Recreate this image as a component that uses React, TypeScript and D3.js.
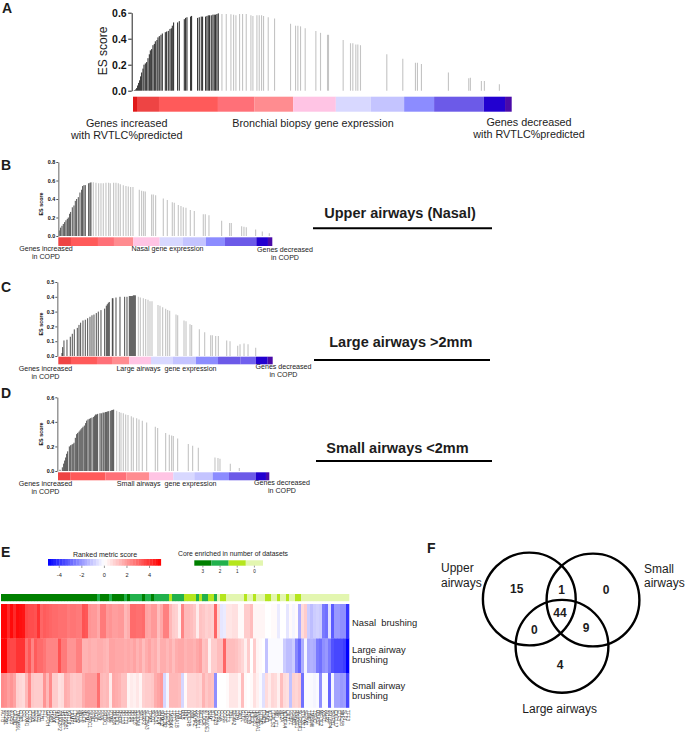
import * as React from 'react';
import { axisLeft, range, scaleBand, scaleLinear, scaleOrdinal, select } from 'd3';

// colour bar steps of the ranked gene list, red end to blue end
const barColorsA = ['#e01818', '#ee4444', '#ff5a5a', '#ff7078', '#ff8c90', '#ffc4e4', '#d8d8ff', '#c4c4ff', '#8c8cff', '#6c5ae8', '#2200d0', '#4a0aa8'];
const barColorsB = ['#ee4444', '#ff5a5a', '#ff7078', '#ff8c90', '#ffc4e4', '#d8d8ff', '#c4c4ff', '#8c8cff', '#6c5ae8', '#2200d0', '#4a0aa8'];
const barColorsC = ['#ee4444', '#ff5a5a', '#ff7078', '#ff8c90', '#ffc4e4', '#d8d8ff', '#c4c4ff', '#8c8cff', '#6c5ae8', '#7060ee', '#2200d0', '#4a0aa8'];

const segmentsA = [0, 12, 78, 255, 365, 481, 609, 714, 814, 904, 1053, 1117, 1137];
const ranksA = [4, 8, 11, 14, 17, 20, 23, 26, 30, 33, 37, 41, 45, 49, 52, 56, 60, 64, 67, 72, 75, 79, 84, 88, 97, 101, 106, 111, 115, 118, 122, 134, 139, 154, 158, 162, 173, 176, 194, 199, 205, 209, 218, 222, 226, 230, 235, 240, 244, 248, 252, 256,
  267, 280, 294, 302, 309, 320, 329, 340, 354, 360, 372, 379, 386, 392, 406, 425, 473, 488, 495, 503, 517, 549, 563, 584, 587, 631, 653, 660, 669, 675, 683, 762, 810, 848, 854, 866, 947, 1008, 1013, 1046, 1055, 1100];
const esA = [0.005, 0.01, 0.02, 0.04, 0.06, 0.08, 0.11, 0.14, 0.17, 0.2, 0.21, 0.22, 0.25, 0.28, 0.31, 0.32, 0.35, 0.36, 0.38, 0.39, 0.41, 0.42, 0.43, 0.44, 0.45, 0.455, 0.46, 0.475, 0.48, 0.5, 0.525, 0.525, 0.535, 0.55, 0.56, 0.565, 0.57, 0.575, 0.56, 0.565, 0.57, 0.57, 0.57, 0.575, 0.58, 0.58, 0.58, 0.585, 0.585, 0.585, 0.59, 0.595,
  0.59, 0.59, 0.588, 0.585, 0.58, 0.59, 0.59, 0.59, 0.58, 0.575, 0.58, 0.58, 0.58, 0.575, 0.565, 0.555, 0.515, 0.5, 0.5, 0.495, 0.48, 0.46, 0.445, 0.43, 0.43, 0.39, 0.365, 0.365, 0.355, 0.355, 0.35, 0.28, 0.245, 0.215, 0.215, 0.205, 0.14, 0.095, 0.1, 0.075, 0.075, 0.05];

const segmentsB = [0, 38, 119, 167, 225, 304, 374, 443, 500, 594, 629, 642];
const ranksB = [3, 7, 11, 15, 19, 23, 27, 30, 34, 37, 42, 47, 51, 55, 60, 65, 70, 73, 77, 81, 91, 95, 98,
  105, 113, 121, 128, 135, 143, 151, 156, 166, 173, 180, 186, 195, 203, 210, 217, 224, 243, 250, 256, 261, 280, 285, 292, 315, 327, 342, 348, 360, 368, 375, 383, 396, 408, 435, 441, 452, 490, 514, 519, 550, 557, 564, 592, 612, 633];
const esB = [0.06, 0.09, 0.11, 0.13, 0.15, 0.17, 0.185, 0.2, 0.24, 0.26, 0.31, 0.33, 0.38, 0.4, 0.42, 0.47, 0.5, 0.54, 0.55, 0.55, 0.57, 0.575, 0.58,
  0.58, 0.575, 0.57, 0.57, 0.57, 0.575, 0.575, 0.57, 0.575, 0.575, 0.57, 0.56, 0.55, 0.54, 0.535, 0.53, 0.53, 0.5, 0.49, 0.485, 0.48, 0.45, 0.45, 0.44, 0.405, 0.39, 0.365, 0.36, 0.335, 0.325, 0.31, 0.305, 0.28, 0.27, 0.235, 0.235, 0.225, 0.165, 0.14, 0.14, 0.105, 0.1, 0.095, 0.07, 0.05, 0.03];

const segmentsC = [0, 38, 116, 161, 213, 278, 344, 413, 479, 547, 592, 628, 643];
const ranksC = [11, 13, 17, 26, 36, 42, 48, 57, 62, 67, 74, 81, 88, 95, 101, 107, 114, 120, 128, 139, 144, 147, 150, 153, 162, 164, 173, 185, 199, 206, 213, 216, 219, 222, 225, 228, 231,
  240, 246, 255, 262, 269, 275, 281, 299, 305, 313, 322, 328, 334, 353, 358, 377, 383, 395, 400, 423, 439, 457, 462, 472, 480, 505, 515, 538, 545, 557, 569, 592];
const esC = [0.02, 0.06, 0.105, 0.11, 0.13, 0.15, 0.18, 0.19, 0.21, 0.225, 0.24, 0.245, 0.255, 0.265, 0.275, 0.28, 0.29, 0.3, 0.31, 0.32, 0.34, 0.35, 0.36, 0.365, 0.39, 0.39, 0.395, 0.4, 0.4, 0.4, 0.405, 0.405, 0.405, 0.405, 0.41, 0.41, 0.41,
  0.4, 0.395, 0.39, 0.385, 0.38, 0.37, 0.37, 0.345, 0.34, 0.33, 0.32, 0.31, 0.305, 0.28, 0.275, 0.24, 0.235, 0.215, 0.21, 0.18, 0.16, 0.14, 0.14, 0.135, 0.135, 0.105, 0.1, 0.07, 0.08, 0.085, 0.08, 0.055];

const segmentsD = [0, 38, 142, 205, 273, 346, 409, 464, 513, 594, 624, 634];
const ranksD = [6, 13, 17, 20, 23, 26, 29, 34, 38, 42, 45, 48, 52, 56, 59, 63, 66, 69, 72, 75, 79, 83, 86, 90, 94, 98, 102, 107, 110, 113, 116, 119, 126, 130, 135, 138, 142, 145, 148, 152, 157, 161, 164, 167,
  176, 184, 189, 196, 203, 210, 220, 226, 236, 243, 253, 266, 292, 299, 323, 334, 341, 346, 359, 391, 404, 421, 471, 480, 486, 517, 544];
const esD = [0.01, 0.03, 0.06, 0.085, 0.11, 0.14, 0.16, 0.2, 0.21, 0.215, 0.22, 0.23, 0.27, 0.3, 0.31, 0.32, 0.33, 0.34, 0.35, 0.36, 0.37, 0.39, 0.41, 0.42, 0.425, 0.43, 0.435, 0.44, 0.45, 0.46, 0.46, 0.465, 0.47, 0.47, 0.475, 0.475, 0.48, 0.48, 0.485, 0.487, 0.49, 0.495, 0.497, 0.5,
  0.49, 0.48, 0.475, 0.47, 0.46, 0.455, 0.445, 0.435, 0.43, 0.42, 0.41, 0.395, 0.36, 0.35, 0.31, 0.295, 0.29, 0.285, 0.265, 0.22, 0.205, 0.19, 0.11, 0.105, 0.1, 0.06, 0.025];

// heatmap: ranked metric score per gene, in three datasets
const nasalScores = [4.9, 4.9, 4.2, 4.8, 4.2, 4.8, 4.7, 4.6, 3.6, 3.5, 3.5, 3.4, 4.0, 3.0, 3.2, 3.1, 3.0, 2.9, 2.9, 2.8, 2.8, 2.8, 2.6, 2.7, 2.7, 2.6, 2.6, 3.4, 3.3, 2.1, 2.0, 2.0, 1.7, 2.6, 2.6, 2.0, 2.1, 1.9, 1.9, 2.0,
  2.0, 1.4, 1.6, 2.9, 2.9, 2.8, 2.8, 2.9, 1.8, 1.7, 2.0, 2.0, 1.3, 1.7, 2.5, 2.5, 1.4, 1.0, 0.9, 0.3, 2.4, 1.4, 1.4, 1.3, 1.1, 0.4, 1.2, 1.1, 0.9, 1.0, 0.9, 3.0, 0.8, -0.5, -0.4, 0.5, 0.5, 0.6, 0.6,
  0.1, 0.1, 1.0, 1.0, 1.3, 0.2, 0.2, 0.2, 0.2, 0.0, 0.0, 0.1, 0.1, -0.4, 0.0, 0.0, -0.5, 0.1, -0.2, 0.1, -1.6, 0.7, 1.0, -1.0, -1.3, -1.0, -0.9, -1.0, -2.6, -2.8, -0.6, -3.2, -2.0, -2.0, -2.2, -2.2, -4.0];
const largeScores = [4.9, 4.9, 3.7, 3.6, 3.6, 4.0, 4.0, 4.0, 2.8, 3.3, 2.4, 3.2, 2.9, 2.9, 2.7, 2.4, 2.4, 2.4, 2.4, 3.4, 2.6, 2.6, 2.1, 2.1, 2.1, 2.5, 2.5, 1.5, 1.5, 1.6, 1.5, 1.5, 1.6, 1.6, 1.5, 1.4, 1.8, 1.8, 1.7, 1.7,
  1.7, 1.6, 1.7, 1.6, 1.8, 1.5, 1.7, 1.3, 1.6, 1.8, 1.5, 1.6, 1.2, 1.6, 1.6, 1.4, 1.6, 1.3, 1.6, 1.7, 1.7, 1.5, 1.6, 1.6, 1.5, 1.7, 1.9, 1.2, 1.3, 0.3, 1.0, 1.0, 1.3, 1.3, 3.0, 1.3, 1.3, 1.3, 1.2,
  1.0, 0.8, 0.3, 1.0, 0.0, 1.0, 0.2, 0.1, 0.0, -1.2, -0.1, -0.1, -0.1, -0.1, -0.1, -1.0, -1.3, -1.3, -1.0, -2.4, -3.0, -1.6, -0.2, -1.6, -1.5, -1.6, -2.6, -2.8, -2.2, -2.0, -2.6, -3.4, -3.6, -3.6, -3.6, -3.8, -5.0];
const smallScores = [2.3, 2.2, 1.9, 2.1, 1.8, 0.9, 0.8, 0.7, 1.4, 2.3, 1.1, 1.0, 1.0, 1.0, 2.1, 1.4, 2.3, 1.0, 1.0, 0.6, 0.7, 1.6, 1.5, 1.1, 1.0, 1.1, 1.1, 1.6, 1.9, 1.9, 1.9, 1.9, 2.8, 1.4, 1.3, 1.4, 0.4, 1.7, 1.6, 1.5,
  1.2, 1.2, 0.2, 0.4, 0.3, 0.5, 0.2, 0.9, 1.0, 1.0, 1.1, 1.6, 1.8, 2.0, -0.8, -0.2, 1.4, 1.4, 1.4, 1.3, -0.8, 0.1, 0.8, 0.8, 0.8, 0.9, 0.8, 1.5, 1.1, 1.3, 1.2, -2.2, 0.0, 0.0, 0.0, 0.1, 0.5, 0.5, 0.5,
  0.2, 1.3, 0.1, 0.0, 0.1, 0.6, 0.3, -0.1, -0.6, 0.7, 0.4, 0.8, 0.7, 0.3, 1.3, 0.7, 0.6, -1.2, 0.9, 0.8, 1.0, -2.8, -0.1, -0.1, -0.1, -0.2, -0.1, -2.2, -0.1, -0.1, -3.0, -0.2, -1.8, -1.8, -2.0, -1.9, -3.6];
const coreCounts = [3, 3, 3, 3, 3, 3, 3, 3, 3, 3, 3, 3, 3, 3, 3, 3, 3, 3, 3, 3, 3, 3, 3, 3, 3, 3, 3, 3, 3, 3, 3, 3, 2, 3, 3, 3, 2, 3, 3, 3,
  3, 2, 3, 2, 2, 2, 2, 3, 2, 2, 3, 2, 2, 2, 2, 2, 1, 2, 2, 2, 2, 1, 1, 1, 1, 2, 1, 2, 2, 1, 1, 2, 0, 1, 1, 0, 0, 0, 0,
  0, 0, 1, 0, 0, 1, 0, 0, 0, 1, 1, 0, 0, 1, 0, 0, 1, 0, 0, 1, 1, 0, 0, 0, 0, 0, 0, 0, 0, 0, 0, 0, 0, 0, 0, 0, 0];

// the gene labels are too small to read in the source, these are stand-ins of similar length
const geneLabels = ['ACTB', 'AP2M1', 'ARF1', 'ATP5B', 'CALM1', 'TMEM59L', 'CD63', 'CFL1', 'COX4I1', 'CTSD', 'DDX5', 'EEF2', 'ENO1', 'FTH1', 'FTL', 'GAPDH', 'GNB2', 'GPX4', 'HINT1', 'ANXA2P2', 'HSPA8', 'HSP90B1', 'KRT19', 'LAMP1', 'LDHB', 'MDH2', 'MYL6', 'NACA', 'NPM1', 'PABPC1',
  'PFN1', 'PGK1', 'PKM', 'PPIA', 'PRDX1', 'PSAP', 'PTMA', 'RAB7A', 'RACK1', 'RHOA', 'RPL10', 'RPL13', 'RPS3', 'RPS6', 'RPS18', 'S100A6', 'SAT1', 'SERF2', 'SLC25A3', 'TPM3', 'SOD1', 'SPCS1', 'SRP14', 'SUMO2', 'TAGLN2', 'TCEB2', 'TMSB4X', 'TPT1', 'TUBA1B', 'TXN',
  'UBB', 'UBC', 'UQCRB', 'VIM', 'YWHAZ', 'ZFP36L1', 'ACTG1', 'ALDOA', 'ATP6V0E1', 'B2M', 'BTF3', 'CAPZB', 'CD59', 'CLTA', 'COPE', 'CST3', 'DBI', 'EIF4A2', 'ERH', 'FAU',
  'GLUL', 'GNAS', 'H3F3B', 'HLA-A', 'HMGB1', 'HNRNPA1', 'IFITM3', 'ITM2B', 'JUND', 'KLF6', 'LGALS3', 'MALAT1', 'MIF', 'MT2A', 'NDUFA4', 'OAZ1', 'PEBP1', 'PSMB1', 'RNASE1', 'SCGB1A1', 'STK38L1', 'SEPW1', 'TIMP1', 'TMBIM6', 'TSPO', 'UBA52', 'WFDC2', 'XBP1', 'AGR2', 'ARL6IP4', 'BPIFB1', 'CXCL17', 'ELF3', 'MUC5B', 'SLPI', 'TFF3'];

const coreLevels = [3, 2, 1, 0];
const coreColors = ['#008000', '#22b14c', '#b5e61d', '#e3f6b0'];
const metricTicks = [-4, -2, 0, 2, 4];
const vennCounts = ['15', '1', '0', '44', '0', '9', '4'];

const font = '"Liberation Sans", Arial, sans-serif';

const metricColor = scaleLinear<string>().domain([-5, 0, 5]).range(['#0000ff', '#ffffff', '#ff0000']).clamp(true);
const coreColor = scaleOrdinal<number, string>().domain(coreLevels).range(coreColors);

interface EnrichmentProps {
  ranks: number[];
  es: number[];
  segments: number[];
  colors: string[];
  peak: number; // rank of the running score maximum, leading edge ends here
  yMax: number;
  yTicks: number[];
  x0: number;
  x1: number;
  yTop: number;
  yBase: number;
  axisX: number;
  barTop: number;
  barBottom: number;
  big?: boolean;
}

const EnrichmentPlot = ({ ranks, es, segments, colors, peak, yMax, yTicks, x0, x1, yTop, yBase, axisX, barTop, barBottom, big }: EnrichmentProps) => {
  const axisRef = React.useRef<SVGGElement>(null);
  const x = scaleLinear().domain([0, segments[segments.length - 1]]).range([x0, x1]);
  const y = scaleLinear().domain([0, yMax]).range([yBase, yTop]);

  React.useEffect(() => {
    const axis = axisLeft(y).tickValues(yTicks).tickFormat((d) => (+d).toFixed(1)).tickSize(big ? 3.5 : 2).tickSizeOuter(0).tickPadding(big ? 1.5 : 1);
    const g = select(axisRef.current!);
    g.call(axis as any);
    g.selectAll('text').attr('font-family', font).attr('font-weight', 'bold').attr('font-size', big ? 10.5 : 5.4).attr('fill', '#111');
    g.selectAll('line').attr('stroke', big ? '#222' : '#555');
    g.select('path').attr('stroke', big ? '#222' : '#888').attr('stroke-width', big ? 1 : 1.3);
  });

  return (
    <g>
      {ranks.map((r, i) => (
        <line key={i} x1={x(r)} x2={x(r)} y1={y(0)} y2={y(es[i])}
          stroke={r <= peak ? '#222' : '#c4c4c4'} strokeWidth={r <= peak ? (big ? 1 : 0.8) : 1.1} />
      ))}
      {colors.map((c, i) => (
        <rect key={i} x={x(segments[i])} y={barTop} width={x(segments[i + 1]) - x(segments[i])} height={barBottom - barTop} fill={c} />
      ))}
      <g ref={axisRef} transform={`translate(${axisX},0)`} />
    </g>
  );
};

const Label = ({ x, y, size = 7.1, anchor = 'middle', weight, children }: any) => (
  <text x={x} y={y} fontSize={size} textAnchor={anchor} fontWeight={weight} fontFamily={font} fill="#1c1c1c">{children}</text>
);

const Heatmap = () => {
  const rows = [nasalScores, largeScores, smallScores];
  const x = scaleBand<number>().domain(range(coreCounts.length)).range([1, 349]);
  const y = scaleBand<number>().domain(range(rows.length)).range([604, 707.5]);
  const legendX = scaleLinear().domain([-5, 5]).range([48, 160.8]);
  const coreX = scaleBand<number>().domain(coreLevels).range([194.3, 263]);
  const steps = range(-5, 5, 0.25);

  return (
    <g>
      <Label x={105} y={557} size={7}>Ranked metric score</Label>
      {steps.map((s) => (
        <rect key={s} x={legendX(s)} y={559} width={legendX(0.25) - legendX(0) + 0.3} height={6.7} fill={metricColor(s + 0.125)} />
      ))}
      {metricTicks.map((t) => (
        <g key={t}>
          <line x1={legendX(t)} x2={legendX(t)} y1={565.7} y2={568} stroke="#555" strokeWidth={0.6} />
          <Label x={legendX(t)} y={577} size={5.6}>{t}</Label>
        </g>
      ))}
      <Label x={233} y={556} size={6.8}>Core enriched in number of datasets</Label>
      {coreLevels.map((c) => (
        <g key={c}>
          <rect x={coreX(c)} y={560.3} width={coreX.bandwidth()} height={5.4} fill={coreColor(c)} />
          <line x1={coreX(c)! + coreX.bandwidth() / 2} x2={coreX(c)! + coreX.bandwidth() / 2} y1={565.7} y2={567.5} stroke="#555" strokeWidth={0.6} />
          <Label x={coreX(c)! + coreX.bandwidth() / 2} y={573} size={4.6}>{c}</Label>
        </g>
      ))}
      {coreCounts.map((c, i) => (
        <rect key={i} x={x(i)} y={594} width={x.bandwidth() + 0.3} height={7.2} fill={coreColor(c)} />
      ))}
      {rows.map((row, r) => row.map((v, i) => (
        <rect key={`${r}-${i}`} x={x(i)} y={y(r)} width={x.bandwidth() + 0.3} height={y.bandwidth() + 0.3} fill={metricColor(v)} />
      )))}
      {geneLabels.map((g, i) => (
        <text key={g + i} transform={`translate(${x(i)! + 0.2},710) rotate(90)`} fontSize={4.6} fontFamily={font} fill="#333">{g}</text>
      ))}
      <Label x={352} y={625.7} size={9.4} anchor="start">{'Nasal\u00a0 brushing'}</Label>
      <Label x={352} y={652.7} size={9.4} anchor="start">Large airway</Label>
      <Label x={352} y={662.7} size={9.4} anchor="start">brushing</Label>
      <Label x={352} y={688.7} size={9.4} anchor="start">Small airway</Label>
      <Label x={352} y={699} size={9.4} anchor="start">brushing</Label>
    </g>
  );
};

const Venn = () => {
  const circles = [[529.3, 599], [593, 600], [562, 646.3]];
  const countPos = [[516.7, 592.7], [561.7, 594], [606, 594], [560, 617], [534.3, 634], [586, 632], [560, 669]];
  return (
    <g>
      {circles.map(([cx, cy], i) => (
        <circle key={i} cx={cx} cy={cy} r={46.4} fill="none" stroke="#000" strokeWidth={2.4} />
      ))}
      {vennCounts.map((c, i) => (
        <Label key={i} x={countPos[i][0]} y={countPos[i][1]} size={12} weight="bold">{c}</Label>
      ))}
      <Label x={441} y={572} size={12} anchor="start">Upper</Label>
      <Label x={441} y={586.7} size={12} anchor="start">airways</Label>
      <Label x={644} y={573} size={12} anchor="start">Small</Label>
      <Label x={644} y={587} size={12} anchor="start">airways</Label>
      <Label x={559.7} y={712.7} size={12}>Large airways</Label>
    </g>
  );
};

const Title = ({ x, y, x1, x2, lineY, children }: any) => (
  <g>
    <Label x={x} y={y} size={14.5} weight="bold">{children}</Label>
    <line x1={x1} x2={x2} y1={lineY} y2={lineY} stroke="#000" strokeWidth={2} />
  </g>
);

const SmallYLabel = ({ x, y }: any) => (
  <text transform={`translate(${x},${y}) rotate(-90)`} fontSize={5.4} fontWeight="bold" textAnchor="middle" fontFamily={font} fill="#111">ES score</text>
);

const App = () => (
  <svg width={685} height={737} style={{ position: 'absolute', left: 0, top: 0, background: '#fff' }}>
    {/* A */}
    <Label x={2} y={12.5} size={14} anchor="start" weight="bold">A</Label>
    <EnrichmentPlot ranks={ranksA} es={esA} segments={segmentsA} colors={barColorsA} peak={256} yMax={0.6} yTicks={[0, 0.2, 0.4, 0.6]}
      x0={133} x1={511.7} yTop={12.7} yBase={90.7} axisX={131.7} barTop={96.7} barBottom={111.7} big />
    <text transform="translate(107,51) rotate(-90)" fontSize={12} textAnchor="middle" fontFamily={font} fill="#1c1c1c">ES score</text>
    <Label x={126.7} y={127} size={10.8}>Genes increased</Label>
    <Label x={126.7} y={139} size={10.8}>with RVTLC%predicted</Label>
    <Label x={313} y={127} size={10.8}>Bronchial biopsy gene expression</Label>
    <Label x={529} y={126} size={10.8}>Genes decreased</Label>
    <Label x={529} y={138} size={10.8}>with RVTLC%predicted</Label>

    {/* B */}
    <Label x={1} y={170} size={14} anchor="start" weight="bold">B</Label>
    <EnrichmentPlot ranks={ranksB} es={esB} segments={segmentsB} colors={barColorsB} peak={98} yMax={0.8} yTicks={[0, 0.2, 0.4, 0.6, 0.8]}
      x0={58.3} x1={272.3} yTop={162} yBase={236} axisX={58.3} barTop={237.3} barBottom={246} />
    <SmallYLabel x={43} y={204} />
    <Label x={46} y={251}>Genes increased</Label>
    <Label x={46} y={259}>in COPD</Label>
    <Label x={167.5} y={251}>Nasal gene expression</Label>
    <Label x={285} y={252}>Genes decreased</Label>
    <Label x={285} y={260}>in COPD</Label>
    <Title x={400} y={217.7} x1={313} x2={492} lineY={228.3}>Upper airways (Nasal)</Title>

    {/* C */}
    <Label x={1} y={292} size={14} anchor="start" weight="bold">C</Label>
    <EnrichmentPlot ranks={ranksC} es={esC} segments={segmentsC} colors={barColorsC} peak={231} yMax={0.5} yTicks={[0, 0.1, 0.2, 0.3, 0.4, 0.5]}
      x0={58.3} x1={272.7} yTop={282} yBase={356} axisX={57.3} barTop={356.7} barBottom={364.3} />
    <SmallYLabel x={43} y={324} />
    <Label x={45.5} y={371}>Genes increased</Label>
    <Label x={45.5} y={379}>in COPD</Label>
    <Label x={166.5} y={371}>{'Large airways\u00a0 gene expression'}</Label>
    <Label x={283.5} y={369}>Genes decreased</Label>
    <Label x={283.5} y={377}>in COPD</Label>
    <Title x={400.8} y={347} x1={314} x2={490} lineY={360}>{'Large airways >2mm'}</Title>

    {/* D */}
    <Label x={1} y={398} size={14} anchor="start" weight="bold">D</Label>
    <EnrichmentPlot ranks={ranksD} es={esD} segments={segmentsD} colors={barColorsB} peak={167} yMax={0.6} yTicks={[0, 0.2, 0.4, 0.6]}
      x0={58} x1={269.3} yTop={397.3} yBase={471} axisX={57.3} barTop={472.3} barBottom={480.3} />
    <SmallYLabel x={43} y={434} />
    <Label x={45.5} y={486}>Genes increased</Label>
    <Label x={45.5} y={494}>in COPD</Label>
    <Label x={166.7} y={486}>{'Small airways\u00a0 gene expression'}</Label>
    <Label x={282} y={485}>Genes decreased</Label>
    <Label x={282} y={493}>in COPD</Label>
    <Title x={397.5} y={453} x1={316} x2={492} lineY={461}>{'Small airways <2mm'}</Title>

    {/* E */}
    <Label x={1} y={557} size={14} anchor="start" weight="bold">E</Label>
    <Heatmap />

    {/* F */}
    <Label x={427} y={553} size={14} anchor="start" weight="bold">F</Label>
    <Venn />
  </svg>
);

export default App;
